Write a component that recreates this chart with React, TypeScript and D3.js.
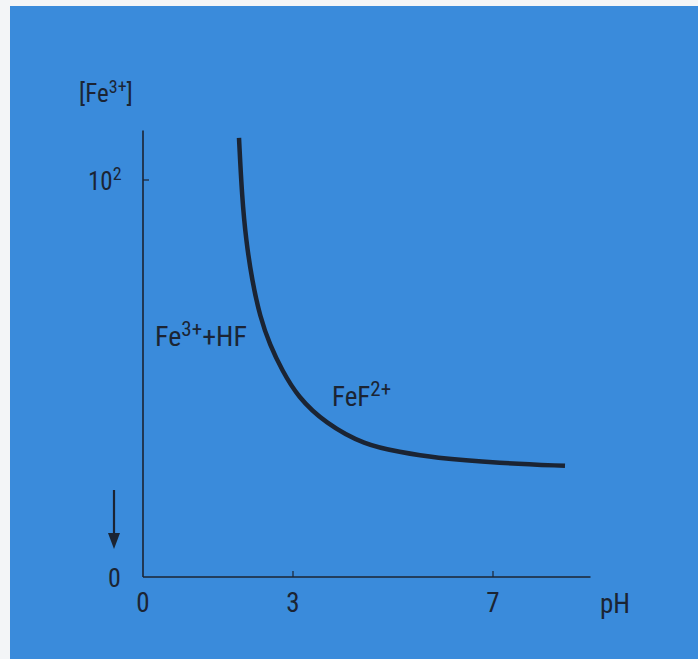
import React, { useEffect } from "react";
import * as d3 from "d3";

const W = 698;
const H = 659;

// curve data: pH vs relative [Fe3+] (y axis: 0 .. 10^2)
const curvePH = [1.92, 1.98, 2.06, 2.18, 2.34, 2.54, 2.78, 3.1, 3.64, 4.44, 5.14, 5.8, 7.14, 8.44];
const curveFe = [110.6, 95.7, 84.9, 74.8, 65.5, 58.4, 52.1, 45.3, 38.8, 33.2, 31.5, 30.0, 28.7, 28.0];

const xTicks = [0, 3, 7];
const xTickLabels = ["0", "3", "7"];
const yTicks = [100];

const FONT = "'Liberation Sans Narrow', 'Roboto Condensed', 'Arial Narrow', 'Liberation Sans', sans-serif";
const INK = "#1b2433";
const BLUE = "#3a8bdb";

export default function App() {
  useEffect(() => {
    document.documentElement.style.background = BLUE;
    document.body.style.background = BLUE;
    document.body.style.margin = "0";
  }, []);

  const x = d3.scaleLinear().domain([0, 9]).range([143, 593]);
  const y = d3.scaleLinear().domain([0, 100]).range([577, 180]);
  const line = d3
    .line<number>()
    .x((_, i) => x(curvePH[i]))
    .y((d) => y(d))
    .curve(d3.curveBasis);
  const xEnd = x(8.95);
  const yTop = y(112.5);

  return (
    <svg
      width={W}
      height={H}
      style={{ position: "fixed", left: 0, top: 0, display: "block" }}
      fontFamily={FONT}
    >
      <rect x={0} y={0} width={W} height={H} fill="#f3f5f7" />
      <rect x={10} y={6} width={W} height={H} fill={BLUE} />

      {/* axes */}
      <line x1={x(0)} y1={yTop} x2={x(0)} y2={y(0)} stroke={INK} strokeWidth={1.6} />
      <line x1={x(0)} y1={y(0)} x2={xEnd} y2={y(0)} stroke={INK} strokeWidth={1.6} />
      {xTicks.filter((t) => t > 0).map((t) => (
        <line key={t} x1={x(t)} y1={y(0)} x2={x(t)} y2={y(0) - 6} stroke={INK} strokeWidth={1.2} />
      ))}
      {yTicks.map((t) => (
        <line key={t} x1={x(0)} y1={y(t)} x2={x(0) + 6} y2={y(t)} stroke={INK} strokeWidth={1.2} />
      ))}

      {/* tick labels */}
      {xTicks.map((t, i) => (
        <text key={t} x={x(t)} y={612} textAnchor="middle" fontSize={27} fill={INK}>
          {xTickLabels[i]}
        </text>
      ))}
      <text x={600} y={613} fontSize={27} fill={INK}>pH</text>
      <text x={88} y={190} fontSize={25} fill={INK}>
        10<tspan dy={-10} fontSize={18}>2</tspan>
      </text>
      <text x={108} y={587} fontSize={26} fill={INK}>0</text>
      <text x={79} y={102} fontSize={25} fill={INK}>
        [Fe<tspan dy={-9} fontSize={18}>3+</tspan><tspan dy={9}>]</tspan>
      </text>

      {/* arrow */}
      <line x1={114} y1={490} x2={114} y2={535} stroke={INK} strokeWidth={2.2} />
      <path d="M108,533 L120,533 L114,549 Z" fill={INK} />

      {/* curve */}
      <path d={line(curveFe) || ""} fill="none" stroke={INK} strokeWidth={4.5} strokeLinecap="butt" />

      {/* region labels */}
      <text x={155} y={346} fontSize={28} fill={INK}>
        Fe<tspan dy={-10} fontSize={21}>3+</tspan><tspan dy={10}>+HF</tspan>
      </text>
      <text x={332} y={406} fontSize={27} fill={INK}>
        FeF<tspan dy={-10} fontSize={21}>2+</tspan>
      </text>
    </svg>
  );
}
